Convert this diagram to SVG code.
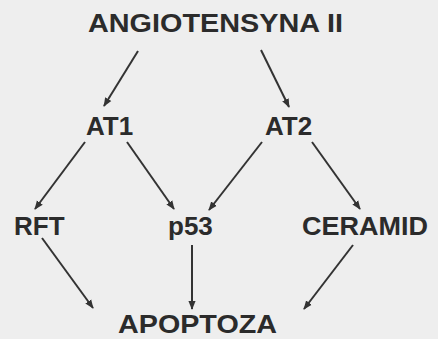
<svg xmlns="http://www.w3.org/2000/svg" width="438" height="339" viewBox="0 0 438 339">
  <style>
    .lbl { font-family: "Liberation Sans", Arial, sans-serif; font-weight: bold; font-size: 26px; fill: #2b2b2b; }
    .edge { stroke: #333; stroke-width: 2; fill: none; marker-end: url(#arrow); }
  </style>
  <defs>
    <marker id="arrow" viewBox="0 0 10 10" refX="9" refY="5" markerWidth="4.5" markerHeight="4.5" orient="auto" markerUnits="strokeWidth">
      <path d="M0,1 L10,5 L0,9 Z" fill="#333"/>
    </marker>
  </defs>
  <rect width="438" height="339" fill="#eeeeee"/>

  <g id="connectors">
    <line class="edge" x1="138" y1="51" x2="104" y2="106"/>
    <line class="edge" x1="261" y1="50" x2="289" y2="107"/>
    <line class="edge" x1="85" y1="142" x2="35" y2="209"/>
    <line class="edge" x1="127" y1="142" x2="174" y2="209"/>
    <line class="edge" x1="262" y1="142" x2="209" y2="210"/>
    <line class="edge" x1="312" y1="142" x2="360" y2="209"/>
    <line class="edge" x1="42" y1="238" x2="93" y2="308"/>
    <line class="edge" x1="192" y1="245" x2="192" y2="309"/>
    <line class="edge" x1="353" y1="245" x2="304" y2="309"/>
  </g>

  <g id="angiotensyna"><text class="lbl" x="88" y="32" textLength="255" lengthAdjust="spacingAndGlyphs">ANGIOTENSYNA II</text></g>
  <g id="at1"><text class="lbl" x="86" y="135">AT1</text></g>
  <g id="at2"><text class="lbl" x="265" y="135">AT2</text></g>
  <g id="rft"><text class="lbl" x="14" y="235">RFT</text></g>
  <g id="p53"><text class="lbl" x="168" y="235">p53</text></g>
  <g id="ceramid"><text class="lbl" x="302" y="235" textLength="126" lengthAdjust="spacingAndGlyphs">CERAMID</text></g>
  <g id="apoptoza"><text class="lbl" x="118" y="333" textLength="159" lengthAdjust="spacingAndGlyphs">APOPTOZA</text></g>
</svg>
